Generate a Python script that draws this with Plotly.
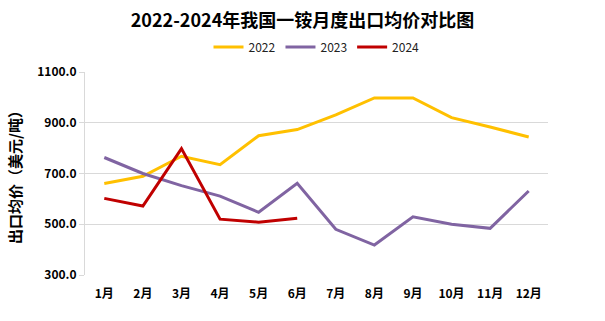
import plotly.graph_objects as go

months = ["1月", "2月", "3月", "4月", "5月", "6月", "7月", "8月", "9月", "10月", "11月", "12月"]
v2022 = [661, 689, 768, 735, 849, 873, 931, 998, 998, 920, 883, 844]
v2023 = [763, 700, 652, 611, 547, 661, 480, 418, 529, 500, 484, 631]
v2024 = [602, 572, 798, 520, 508, 524]

FONT = "Noto Sans CJK SC"
fig = go.Figure()
for name, vals, col in [("2022", v2022, "#FFC000"), ("2023", v2023, "#8064A2"), ("2024", v2024, "#C00000")]:
    fig.add_trace(go.Scatter(x=months[:len(vals)], y=vals, name=name, mode="lines",
                             line=dict(color=col, width=3)))

fig.update_layout(
    width=605, height=321,
    margin=dict(l=85, r=57, t=72, b=46),
    paper_bgcolor="white", plot_bgcolor="white",
    title=dict(text="<b>2022-2024年我国一铵月度出口均价对比图</b>", x=0.5, xanchor="center",
               yref="container", y=1 - 21 / 321, yanchor="middle",
               font=dict(family=FONT, size=18, color="black")),
    legend=dict(orientation="h", x=0.5, xanchor="center", y=1.123, yanchor="middle",
                font=dict(family=FONT, size=12, color="#222"), itemwidth=30,
                tracegroupgap=0, bgcolor="rgba(0,0,0,0)"),
    showlegend=True,
    font=dict(family=FONT),
)
fig.update_xaxes(type="category", showgrid=False, showline=False, ticks="",
                 ticklabelstandoff=10,
                 tickfont=dict(family=FONT, size=12, color="black", weight="bold"),
                 range=[-0.5, 11.5])
fig.update_yaxes(range=[300, 1100], dtick=200, tick0=300, tickformat=".1f",
                 showgrid=True, gridcolor="#D9D9D9", gridwidth=1,
                 showline=True, linecolor="#D9D9D9", linewidth=1,
                 ticks="outside", ticklen=5, tickcolor="#D9D9D9",
                 zeroline=False,
                 tickfont=dict(family=FONT, size=12, color="black", weight="bold"),
                 title=dict(text="出口均价（美元/吨）", standoff=12,
                            font=dict(family=FONT, size=15, color="black", weight="bold")))

fig.write_html("out.html")
